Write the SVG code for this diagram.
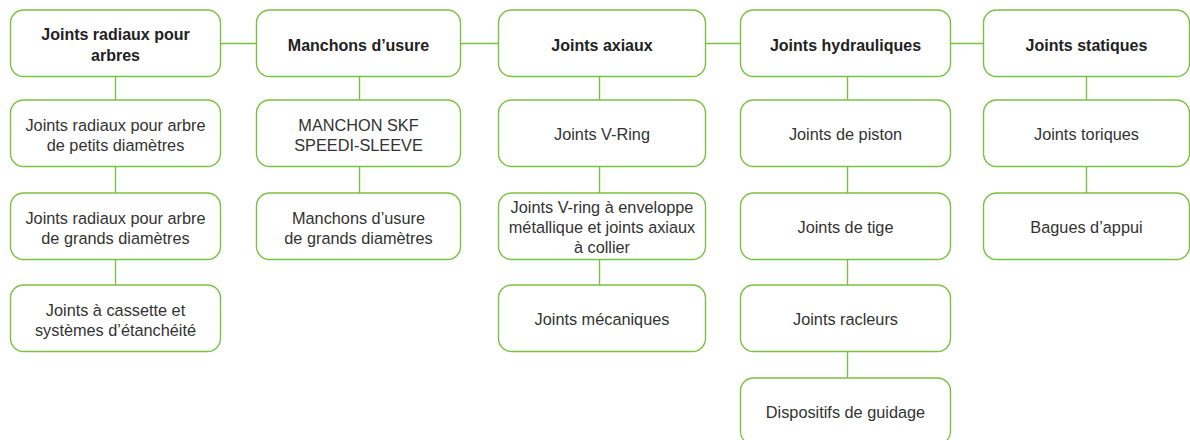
<svg xmlns="http://www.w3.org/2000/svg" width="1190" height="440" viewBox="0 0 1190 440">
<style>
.box{fill:#fff;stroke:#7ac143;stroke-width:1.4}
.con line{stroke:#7ac143;stroke-width:1.4}
text{font-family:"Liberation Sans",Arial,sans-serif;font-size:16.3px;fill:#333;text-anchor:middle}
.h{font-weight:bold;font-size:16px;fill:#222}
</style>
<rect width="1190" height="440" fill="#fff"/>
<g class="con">
<line x1="220.5" y1="43.5" x2="256.5" y2="43.5"/>
<line x1="460.5" y1="43.5" x2="498.5" y2="43.5"/>
<line x1="705.5" y1="43.5" x2="740.5" y2="43.5"/>
<line x1="950.5" y1="43.5" x2="983.5" y2="43.5"/>
<line x1="115.5" y1="76.5" x2="115.5" y2="100"/>
<line x1="115.5" y1="166.5" x2="115.5" y2="193"/>
<line x1="115.5" y1="259.5" x2="115.5" y2="285"/>
<line x1="359.5" y1="76.5" x2="359.5" y2="100"/>
<line x1="359.5" y1="166.5" x2="359.5" y2="193"/>
<line x1="599.5" y1="76.5" x2="599.5" y2="100"/>
<line x1="599.5" y1="166.5" x2="599.5" y2="193"/>
<line x1="599.5" y1="259.5" x2="599.5" y2="285"/>
<line x1="847.5" y1="76.5" x2="847.5" y2="100"/>
<line x1="847.5" y1="166.5" x2="847.5" y2="193"/>
<line x1="847.5" y1="259.5" x2="847.5" y2="285"/>
<line x1="847.5" y1="351.5" x2="847.5" y2="378"/>
<line x1="1086.5" y1="76.5" x2="1086.5" y2="100"/>
<line x1="1086.5" y1="166.5" x2="1086.5" y2="193"/>
</g>
<g id="n1"><rect class="box" x="10.5" y="10" width="210" height="66.5" rx="13"/><text class="h" x="115.5" y="40">Joints radiaux pour</text><text class="h" x="115.5" y="61">arbres</text></g>
<g id="n1a"><rect class="box" x="10.5" y="100" width="210" height="66.5" rx="13"/><text x="115.5" y="130.5">Joints radiaux pour arbre</text><text x="115.5" y="150.5">de petits diamètres</text></g>
<g id="n1b"><rect class="box" x="10.5" y="193" width="210" height="66.5" rx="13"/><text x="115.5" y="223.5">Joints radiaux pour arbre</text><text x="115.5" y="243.5">de grands diamètres</text></g>
<g id="n1c"><rect class="box" x="10.5" y="285" width="210" height="66.5" rx="13"/><text x="115.5" y="315.5">Joints à cassette et</text><text x="115.5" y="335.5">systèmes d’étanchéité</text></g>
<g id="n2"><rect class="box" x="256.5" y="10" width="204" height="66.5" rx="13"/><text class="h" x="358.5" y="50.5">Manchons d’usure</text></g>
<g id="n2a"><rect class="box" x="256.5" y="100" width="204" height="66.5" rx="13"/><text x="358.5" y="130.5">MANCHON SKF</text><text x="358.5" y="150.5">SPEEDI-SLEEVE</text></g>
<g id="n2b"><rect class="box" x="256.5" y="193" width="204" height="66.5" rx="13"/><text x="358.5" y="223.5">Manchons d’usure</text><text x="358.5" y="243.5">de grands diamètres</text></g>
<g id="n3"><rect class="box" x="498.5" y="10" width="207" height="66.5" rx="13"/><text class="h" x="602" y="50.5">Joints axiaux</text></g>
<g id="n3a"><rect class="box" x="498.5" y="100" width="207" height="66.5" rx="13"/><text x="602" y="140">Joints V-Ring</text></g>
<g id="n3b"><rect class="box" x="498.5" y="193" width="207" height="66.5" rx="13"/><text x="602" y="213">Joints V-ring à enveloppe</text><text x="602" y="233">métallique et joints axiaux</text><text x="602" y="253">à collier</text></g>
<g id="n3c"><rect class="box" x="498.5" y="285" width="207" height="66.5" rx="13"/><text x="602" y="325">Joints mécaniques</text></g>
<g id="n4"><rect class="box" x="740.5" y="10" width="210" height="66.5" rx="13"/><text class="h" x="845.5" y="50.5">Joints hydrauliques</text></g>
<g id="n4a"><rect class="box" x="740.5" y="100" width="210" height="66.5" rx="13"/><text x="845.5" y="140">Joints de piston</text></g>
<g id="n4b"><rect class="box" x="740.5" y="193" width="210" height="66.5" rx="13"/><text x="845.5" y="233">Joints de tige</text></g>
<g id="n4c"><rect class="box" x="740.5" y="285" width="210" height="66.5" rx="13"/><text x="845.5" y="325">Joints racleurs</text></g>
<g id="n4d"><rect class="box" x="740.5" y="378" width="210" height="66.5" rx="13"/><text x="845.5" y="418">Dispositifs de guidage</text></g>
<g id="n5"><rect class="box" x="983.5" y="10" width="206" height="66.5" rx="13"/><text class="h" x="1086.5" y="50.5">Joints statiques</text></g>
<g id="n5a"><rect class="box" x="983.5" y="100" width="206" height="66.5" rx="13"/><text x="1086.5" y="140">Joints toriques</text></g>
<g id="n5b"><rect class="box" x="983.5" y="193" width="206" height="66.5" rx="13"/><text x="1086.5" y="233">Bagues d’appui</text></g>
</svg>
